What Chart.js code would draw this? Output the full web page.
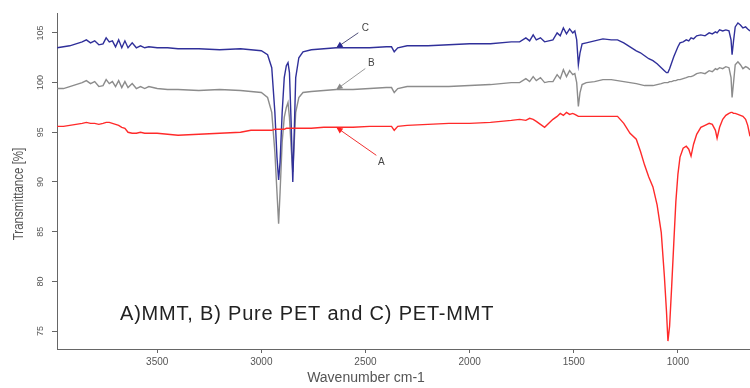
<!DOCTYPE html>
<html>
<head>
<meta charset="utf-8">
<script src="https://cdn.jsdelivr.net/npm/chart.js@4.4.0/dist/chart.umd.min.js"></script>
<style>
  html, body { margin: 0; padding: 0; background: #fff; }
</style>
</head>
<body>
<canvas id="ftir" width="750" height="388"></canvas>
<script>
// wavenumber (cm-1), shared by the three spectra
var wavenumber = [
  3980, 3950, 3920, 3890, 3860, 3840, 3820, 3800, 3780, 3760,
  3745, 3730, 3715, 3700, 3685, 3670, 3655, 3640, 3620, 3600,
  3580, 3560, 3540, 3500, 3450, 3400, 3300, 3200, 3100, 3050,
  3000, 2970, 2950, 2935, 2925, 2917, 2910, 2900, 2890, 2880,
  2872, 2865, 2857, 2849, 2842, 2835, 2820, 2800, 2760, 2700,
  2640, 2560, 2480, 2400, 2375, 2362, 2345, 2300, 2200, 2100,
  2000, 1900, 1800, 1760, 1730, 1712, 1695, 1680, 1660, 1640,
  1620, 1600, 1580, 1565, 1550, 1535, 1520, 1505, 1495, 1486,
  1478, 1470, 1460, 1440, 1400, 1360, 1320, 1290, 1260, 1230,
  1200, 1180, 1160, 1140, 1120, 1100, 1080, 1065, 1055, 1048,
  1040, 1030, 1020, 1010, 1000, 990, 975, 960, 948, 937,
  925, 910, 890, 870, 850, 835, 820, 812, 800, 785,
  770, 755, 745, 740, 733, 725, 712, 700, 688, 675,
  665, 654
];

// A) MMT
var mmt = [
  95.6, 95.6, 95.7, 95.8, 95.9, 96.0, 95.9, 95.9, 95.8, 95.9,
  96.0, 96.0, 95.9, 95.8, 95.7, 95.5, 95.4, 95.0, 94.9, 94.9,
  95.0, 94.9, 94.9, 94.9, 94.8, 94.7, 94.8, 94.9, 95.0, 95.2,
  95.2, 95.2, 95.2, 95.3, 95.3, 95.3, 95.3, 95.3, 95.3, 95.4,
  95.4, 95.4, 95.4, 95.4, 95.4, 95.4, 95.4, 95.4, 95.4, 95.5,
  95.5, 95.5, 95.6, 95.6, 95.6, 95.2, 95.6, 95.7, 95.8, 95.9,
  95.9, 96.0, 96.2, 96.3, 96.2, 96.4, 96.3, 96.1, 95.8, 95.5,
  95.9, 96.3, 96.6, 96.9, 96.7, 97.0, 96.8, 96.9, 96.8, 96.7,
  96.6, 96.6, 96.6, 96.6, 96.6, 96.6, 96.6, 96.6, 95.9, 94.9,
  94.3, 93.1, 91.7, 90.5, 89.5, 87.7, 84.9, 80.5, 77.0, 74.0,
  75.5, 79.5, 83.8, 88.0, 90.8, 92.5, 93.4, 93.6, 93.3, 92.6,
  93.8, 94.8, 95.5, 95.7, 95.9, 95.8, 95.2, 94.4, 95.5, 96.3,
  96.7, 96.9, 97.0, 97.0, 96.9, 96.9, 96.8, 96.7, 96.6, 96.3,
  95.7, 94.6
];

// B) Pure PET
var purePet = [
  99.4, 99.4, 99.6, 99.8, 100.0, 100.2, 99.9, 100.1, 99.6, 99.7,
  100.3, 99.9, 100.1, 99.6, 100.2, 99.5, 100.1, 99.5, 99.9, 99.4,
  99.6, 99.4, 99.6, 99.4, 99.3, 99.3, 99.2, 99.3, 99.2, 99.1,
  99.0, 98.5, 97.0, 93.0, 89.0, 85.8, 89.0, 94.0, 96.5, 97.5,
  98.0, 96.5, 93.5, 91.0, 94.0, 97.0, 98.5, 99.0, 99.1, 99.2,
  99.3, 99.3, 99.4, 99.5, 99.5, 99.0, 99.4, 99.6, 99.6, 99.6,
  99.7, 99.8, 100.0, 100.0, 100.4, 100.1, 100.6, 100.2, 100.5, 100.0,
  100.1, 100.1, 100.8, 100.4, 101.3, 100.6, 101.2, 100.8, 100.9, 100.0,
  97.6, 99.0, 99.8, 100.0, 100.1, 100.3, 100.3, 100.2, 100.1, 100.0,
  99.9, 99.8, 99.7, 99.7, 99.7, 99.8, 99.9, 100.0, 100.0, 100.0,
  100.1, 100.1, 100.2, 100.2, 100.3, 100.3, 100.4, 100.5, 100.6, 100.6,
  100.7, 100.9, 101.0, 100.9, 101.2, 101.1, 101.4, 101.3, 101.5, 101.4,
  101.6, 101.5, 100.5, 98.5, 100.0, 101.8, 102.1, 101.8, 101.4, 101.6,
  101.5, 101.3
];

// C) PET-MMT
var petMmt = [
  103.5, 103.6, 103.7, 103.9, 104.1, 104.3, 104.0, 104.2, 103.8, 103.9,
  104.5, 104.1, 104.2, 103.6, 104.3, 103.5, 104.2, 103.5, 104.0, 103.5,
  103.7, 103.5, 103.6, 103.5, 103.5, 103.4, 103.4, 103.3, 103.4, 103.3,
  103.2, 102.8, 101.5, 97.0, 92.5, 90.2, 92.0, 97.0, 100.5, 101.7,
  102.0, 101.0, 96.0, 90.0, 95.0, 100.5, 102.5, 103.1, 103.3, 103.4,
  103.5, 103.5, 103.5, 103.6, 103.6, 103.1, 103.5, 103.7, 103.7, 103.8,
  103.9, 103.9, 104.1, 104.1, 104.5, 104.2, 104.8, 104.3, 104.5, 104.1,
  104.2, 104.3, 105.0, 104.7, 105.5, 104.9, 105.4, 105.0, 105.2, 104.3,
  101.8, 103.0, 103.9, 104.0, 104.2, 104.4, 104.3, 104.3, 104.0, 103.6,
  103.2, 103.0, 102.7, 102.4, 102.2, 101.9, 101.5, 101.2, 101.0, 101.0,
  101.4, 102.0, 102.6, 103.1, 103.6, 104.0, 104.1, 104.3, 104.2, 104.5,
  104.4, 104.7, 104.8, 104.7, 105.0, 104.9, 105.1, 105.0, 105.3, 105.2,
  105.3, 105.2, 104.3, 102.8, 104.2, 105.6, 106.0, 105.8, 105.5, 105.6,
  105.4, 105.2
];

var xTicks = [3500, 3000, 2500, 2000, 1500, 1000];
var yTicks = [75, 80, 85, 90, 95, 100, 105];
var seriesLabels = ['A', 'B', 'C'];
var pointerWn = 2640; // where the letter arrows touch the curves
var caption = 'A)MMT, B) Pure PET and C) PET-MMT';
var xTitle = 'Wavenumber cm-1';
var yTitle = 'Transmittance [%]';

var FONT = '"Liberation Sans", Arial, sans-serif';
Chart.defaults.font.family = FONT;

function toPoints(ys) {
  return wavenumber.map(function (w, i) { return { x: w, y: ys[i] }; });
}

function arrow(ctx, x0, y0, x1, y1, lineColor, headColor) {
  ctx.strokeStyle = lineColor;
  ctx.lineWidth = 1;
  ctx.beginPath();
  ctx.moveTo(x0, y0);
  ctx.lineTo(x1, y1);
  ctx.stroke();
  var a = Math.atan2(y1 - y0, x1 - x0);
  ctx.fillStyle = headColor;
  ctx.beginPath();
  ctx.moveTo(x1, y1);
  ctx.lineTo(x1 - 7 * Math.cos(a - 0.45), y1 - 7 * Math.sin(a - 0.45));
  ctx.lineTo(x1 - 7 * Math.cos(a + 0.45), y1 - 7 * Math.sin(a + 0.45));
  ctx.closePath();
  ctx.fill();
}

// titles, letter pointers and the caption
var overlay = {
  id: 'overlay',
  afterDraw: function (chart) {
    var ctx = chart.ctx;
    var xs = chart.scales.x, ys = chart.scales.y;
    ctx.save();

    ctx.fillStyle = '#555';
    ctx.textAlign = 'center';
    ctx.textBaseline = 'middle';
    ctx.font = '14px ' + FONT;
    ctx.fillText(xTitle, 366, 378);

    ctx.save();
    ctx.translate(19, 194);
    ctx.rotate(-Math.PI / 2);
    ctx.scale(0.77, 1);
    ctx.font = '15px ' + FONT;
    ctx.fillText(yTitle, 0, 0);
    ctx.restore();

    var k = wavenumber.indexOf(pointerWn);
    var px = xs.getPixelForValue(pointerWn);
    var pointers = [
      { y: mmt[k], line: '#f03030', head: '#ff2020', end: [40, 28], text: [45, 35] },
      { y: purePet[k], line: '#9a9a9a', head: '#888', end: [29, -21], text: [35, -26] },
      { y: petMmt[k], line: '#50507a', head: '#2a2a90', end: [22, -15], text: [29, -20] }
    ];
    ctx.font = '10px ' + FONT;
    pointers.forEach(function (p, i) {
      var py = ys.getPixelForValue(p.y);
      arrow(ctx, px + p.end[0], py + p.end[1], px, py, p.line, p.head);
      ctx.fillStyle = '#444';
      ctx.fillText(seriesLabels[i], px + p.text[0], py + p.text[1]);
    });

    ctx.fillStyle = '#222';
    ctx.textAlign = 'left';
    ctx.textBaseline = 'alphabetic';
    ctx.font = '20px ' + FONT;
    ctx.letterSpacing = '0.8px';
    ctx.fillText(caption, 120, 320);

    ctx.restore();
  }
};

new Chart(document.getElementById('ftir'), {
  type: 'line',
  data: {
    datasets: [
      { label: 'MMT', data: toPoints(mmt), borderColor: '#ff2a2a' },
      { label: 'PET-MMT', data: toPoints(petMmt), borderColor: '#30309a' },
      { label: 'Pure PET', data: toPoints(purePet), borderColor: '#8c8c8c' }
    ]
  },
  options: {
    responsive: false,
    animation: false,
    layout: { padding: { top: 13, right: 0, left: 0, bottom: 0 } },
    elements: {
      point: { radius: 0 },
      line: { borderWidth: 1.4, tension: 0 }
    },
    plugins: {
      legend: { display: false },
      tooltip: { enabled: false }
    },
    scales: {
      x: {
        type: 'linear',
        reverse: true,
        min: 654,
        max: 3981,
        afterBuildTicks: function (s) { s.ticks = xTicks.map(function (v) { return { value: v }; }); },
        afterFit: function (s) { s.height = 39; },
        grid: { display: true, drawOnChartArea: false, drawTicks: true, tickLength: 4, color: '#666' },
        border: { display: true, color: '#666', width: 1 },
        ticks: {
          color: '#555', font: { size: 10 }, padding: 3, maxRotation: 0, autoSkip: false,
          callback: function (v) { return String(v); }
        }
      },
      y: {
        min: 73.2,
        max: 107,
        afterBuildTicks: function (s) { s.ticks = yTicks.map(function (v) { return { value: v }; }); },
        afterFit: function (s) { s.width = 57; },
        grid: { display: true, drawOnChartArea: false, drawTicks: true, tickLength: 5, color: '#666' },
        border: { display: true, color: '#666', width: 1 },
        ticks: {
          color: '#555', font: { size: 9 }, padding: 4, minRotation: 90, maxRotation: 90,
          crossAlign: 'center', autoSkip: false,
          callback: function (v) { return String(v); }
        }
      }
    }
  },
  plugins: [overlay]
});
</script>
</body>
</html>
